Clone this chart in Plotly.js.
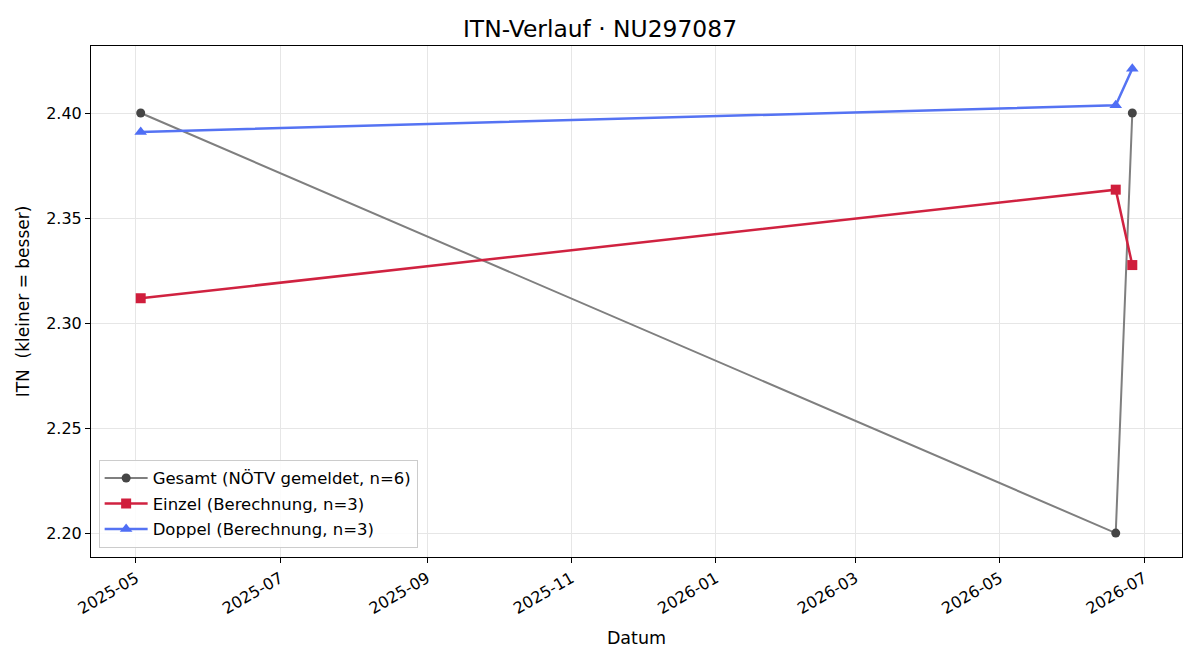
<!DOCTYPE html>
<html>
<head>
<meta charset="utf-8">
<script src="https://cdn.plot.ly/plotly-3.0.1.min.js"></script>
<style>html,body{margin:0;padding:0;background:#fff;}#chart{width:1200px;height:660px;}</style>
</head>
<body>
<div id="chart"></div>
<script>
const gesamtDates = ["2025-05-03", "2026-06-19", "2026-06-26"];
const gesamtValues = [2.40, 2.20, 2.40];
const einzelDates = ["2025-05-03", "2026-06-19", "2026-06-26"];
const einzelValues = [2.3118, 2.3635, 2.3276];
const doppelDates = ["2025-05-03", "2026-06-19", "2026-06-26"];
const doppelValues = [2.3910, 2.4037, 2.4211];
const seriesNames = ["Gesamt (NÖTV gemeldet, n=6)", "Einzel (Berechnung, n=3)", "Doppel (Berechnung, n=3)"];

const font = "DejaVu Sans, sans-serif";

const traces = [
  {x: gesamtDates, y: gesamtValues, name: seriesNames[0], legendgroup: "g1", mode: "lines+markers", type: "scatter",
   line: {color: "#7f7f7f", width: 2}, marker: {symbol: "circle", size: 9, color: "#454545"}},
  {x: einzelDates, y: einzelValues, name: seriesNames[1], legendgroup: "g2", mode: "lines+markers", type: "scatter",
   line: {color: "#d02240", width: 2.5}, marker: {symbol: "square", size: 10, color: "#d01e3c"}},
  {x: doppelDates, y: doppelValues, name: seriesNames[2], legendgroup: "g3", mode: "lines+markers", type: "scatter",
   line: {color: "#5573f3", width: 2.5}, marker: {symbol: "triangle-up", size: 11, color: "#4f6ef5"}}
];

const layout = {
  width: 1200, height: 660,
  margin: {l: 91, r: 18, t: 46, b: 103},
  paper_bgcolor: "#ffffff", plot_bgcolor: "#ffffff",
  font: {family: font, size: 16, color: "#000"},
  title: {text: "ITN-Verlauf · NU297087", font: {family: font, size: 23.4, color: "#000"}, x: 0.5, xanchor: "center", y: 0.957, yanchor: "middle"},
  xaxis: {
    title: {text: "Datum", font: {family: font, size: 17.5}, standoff: 14},
    type: "date",
    range: ["2025-04-12", "2026-07-17"],
    tick0: "2025-05-01", dtick: "M2", tickformat: "%Y-%m",
    tickangle: -30, tickfont: {family: font, size: 16},
    ticks: "outside", ticklen: 5, tickcolor: "#000",
    showgrid: true, gridcolor: "#e6e6e6", gridwidth: 1,
    showline: true, linecolor: "#000", linewidth: 1, mirror: true, zeroline: false
  },
  yaxis: {
    title: {text: "ITN&nbsp;&nbsp;(kleiner = besser)", font: {family: font, size: 17}, standoff: 12},
    range: [2.1886, 2.4319],
    tick0: 2.2, dtick: 0.05, tickformat: ".2f",
    tickfont: {family: font, size: 16},
    ticks: "outside", ticklen: 5, tickcolor: "#000",
    showgrid: true, gridcolor: "#e6e6e6", gridwidth: 1,
    showline: true, linecolor: "#000", linewidth: 1, mirror: true, zeroline: false
  },
  legend: {
    x: 0.007, y: 0.018, xanchor: "left", yanchor: "bottom",
    bgcolor: "rgba(255,255,255,0.85)", bordercolor: "#cccccc", borderwidth: 1,
    font: {family: font, size: 16.5}, tracegroupgap: 1, itemwidth: 43
  },
  showlegend: true
};

Plotly.newPlot("chart", traces, layout, {displayModeBar: false, staticPlot: true});
</script>
</body>
</html>
